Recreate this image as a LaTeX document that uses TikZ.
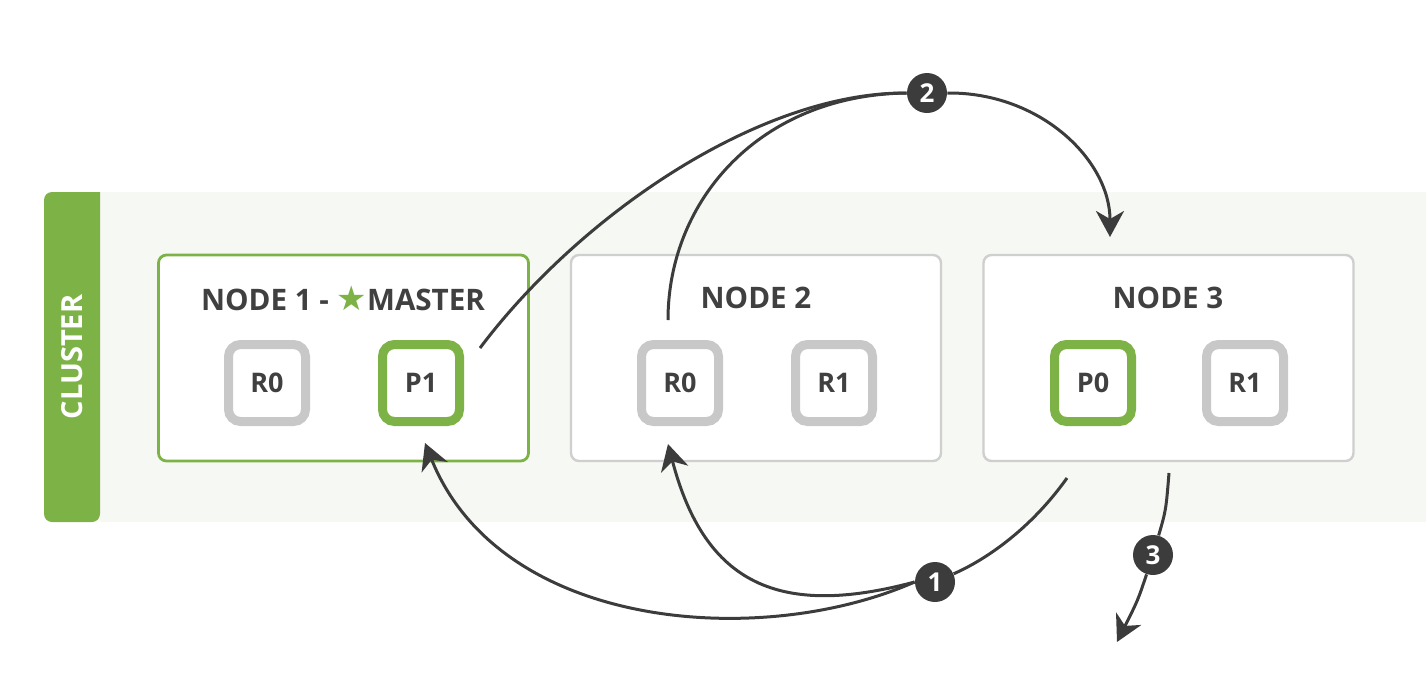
\documentclass[tikz,border=0pt]{standalone}
\usepackage{fontspec}
\setmainfont{Open Sans}
\newfontfamily\symfont{DejaVu Sans}
\usetikzlibrary{arrows.meta}
\definecolor{mgreen}{HTML}{7DB346}
\definecolor{lgray}{HTML}{C8C8C8}
\definecolor{bgray}{HTML}{CFCFCF}
\definecolor{clbg}{HTML}{F6F8F3}
\definecolor{ink}{HTML}{3C3C3C}
\definecolor{txt}{HTML}{404040}
\begin{document}
\begin{tikzpicture}[x=0.5pt,y=-0.5pt,
  nodebox/.style={draw=bgray, line width=1.2pt, fill=white, rounded corners=4pt, minimum width=185pt, minimum height=103pt, inner sep=0pt},
  masterbox/.style={nodebox, draw=mgreen, line width=1.4pt},
  title/.style={font=\bfseries\fontsize{14.8}{17}\selectfont, text=txt, inner sep=0pt},
  shard/.style={draw=lgray, line width=4.5pt, fill=white, rounded corners=6pt, minimum size=38.5pt, inner sep=0pt, font=\bfseries\fontsize{13.5}{15}\selectfont, text=txt},
  primary/.style={shard, draw=mgreen},
  badge/.style={circle, fill=ink, minimum size=20pt, inner sep=0pt, text=white, font=\bfseries\fontsize{13}{15}\selectfont},
  conn/.style={draw=ink, line width=1.5pt},
  arr/.style={conn, -{Stealth[length=13pt,width=14pt,inset=4pt]}}
]
\useasboundingbox (0,0) rectangle (1426,676);
% cluster background
\fill[clbg] (100,192) rectangle (1426,522);
\fill[mgreen, rounded corners=4pt] (100,192) -- (44,192) -- (44,522) -- (100,522) [sharp corners] -- cycle;
\node[rotate=90, text=white, font=\bfseries\fontsize{14.5}{17}\selectfont, inner sep=0pt] (cl) at (72,357) {CLUSTER};
% node boxes
\node[masterbox] (n1) at (343.5,358) {};
\node[nodebox] (n2) at (756,358) {};
\node[nodebox] (n3) at (1168.5,358) {};
\node[title] (t1) at (343,298) {NODE 1 - {\symfont\fontsize{17}{17}\selectfont\color{mgreen}★}MASTER};
\node[title] (t2) at (756,298) {NODE 2};
\node[title] (t3) at (1168,298) {NODE 3};
% shards
\node[shard] (r0a) at (267,383) {R0};
\node[primary] (p1) at (421,383) {P1};
\node[shard] (r0b) at (680,383) {R0};
\node[shard] (r1b) at (834,383) {R1};
\node[primary] (p0) at (1093,383) {P0};
\node[shard] (r1c) at (1245,383) {R1};
% badges
\node[badge] (b2) at (927,93) {2};
\node[badge] (b1) at (935,582) {1};
\node[badge] (b3) at (1153,555) {3};
% coordinates
\coordinate (s2a) at (480,348);
\coordinate (s2b) at (668,320);
\coordinate (e2) at (1110,237);
\coordinate (s1) at (1067,478);
\coordinate (e1a) at (425,443);
\coordinate (e1b) at (668,444);
\coordinate (s3) at (1169,473);
\coordinate (e3) at (1117,642);
% connectors
\draw[conn] (s2a) .. controls (580,215) and (760,92) .. (b2.west);
\draw[conn] (s2b) .. controls (668,200) and (760,95) .. (b2.west);
\draw[arr] (b2.east) .. controls (1040,92) and (1110,160) .. (e2);
\draw[conn] (s1) .. controls (1030,530) and (985,560) .. (b1);
\draw[arr] (b1.west) .. controls (760,650) and (500,630) .. (e1a);
\draw[arr] (b1.west) .. controls (780,618) and (705,585) .. (e1b);
\draw[conn] (s3) .. controls (1166,510) .. (b3);
\draw[arr] (b3) .. controls (1138,600) .. (e3);
\end{tikzpicture}
\end{document}
